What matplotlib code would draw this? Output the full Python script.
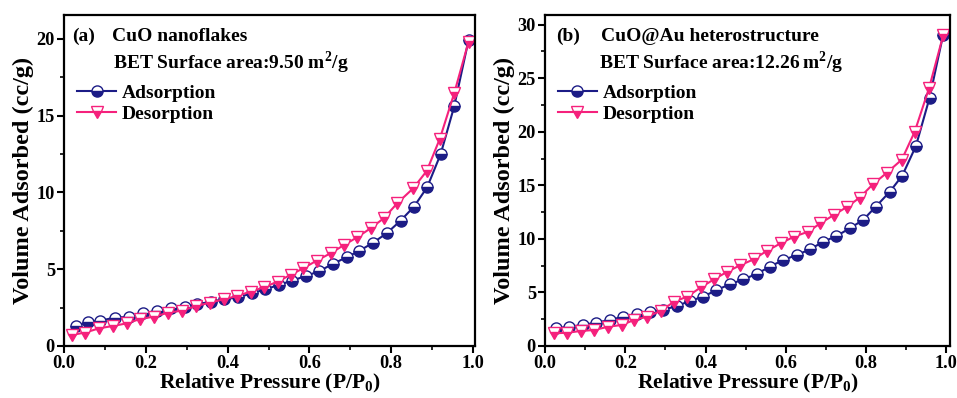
import matplotlib.pyplot as plt
from matplotlib.ticker import MultipleLocator

plt.rcParams['font.family'] = ['Liberation Serif', 'DejaVu Serif']
plt.rcParams['font.weight'] = 'bold'
plt.rcParams['mathtext.fontset'] = 'custom'
plt.rcParams['mathtext.rm'] = 'Liberation Serif:bold'
plt.rcParams['mathtext.bf'] = 'Liberation Serif:bold'

# (a) CuO nanoflakes
a_ads_x = [0.029, 0.059, 0.088, 0.124, 0.158, 0.192, 0.227, 0.261, 0.295, 0.326,
           0.359, 0.391, 0.425, 0.460, 0.492, 0.525, 0.557, 0.592, 0.624, 0.657,
           0.691, 0.722, 0.756, 0.789, 0.823, 0.856, 0.888, 0.921, 0.954, 0.989]
a_ads_y = [1.30, 1.56, 1.65, 1.84, 1.90, 2.13, 2.28, 2.45, 2.56, 2.71,
           2.89, 3.04, 3.17, 3.43, 3.69, 3.97, 4.25, 4.56, 4.87, 5.34,
           5.78, 6.19, 6.73, 7.34, 8.16, 9.08, 10.34, 12.50, 15.60, 19.90]
a_des_x = [0.019, 0.051, 0.086, 0.119, 0.155, 0.186, 0.220, 0.255, 0.288, 0.323,
           0.357, 0.390, 0.424, 0.456, 0.489, 0.522, 0.554, 0.585, 0.618, 0.652,
           0.685, 0.717, 0.750, 0.782, 0.815, 0.854, 0.887, 0.919, 0.954, 0.989]
a_des_y = [0.72, 0.87, 1.15, 1.30, 1.48, 1.76, 1.91, 2.17, 2.30, 2.60,
           2.82, 3.04, 3.26, 3.54, 3.82, 4.19, 4.63, 5.06, 5.56, 6.04,
           6.58, 7.08, 7.67, 8.32, 9.30, 10.27, 11.40, 13.50, 16.45, 19.80]

# (b) CuO@Au heterostructure
b_ads_x = [0.027, 0.061, 0.094, 0.127, 0.162, 0.195, 0.228, 0.261, 0.293, 0.328,
           0.361, 0.394, 0.427, 0.460, 0.494, 0.527, 0.560, 0.593, 0.627, 0.660,
           0.693, 0.726, 0.759, 0.792, 0.824, 0.859, 0.890, 0.924, 0.958, 0.992]
b_ads_y = [1.65, 1.80, 1.96, 2.18, 2.43, 2.74, 2.99, 3.20, 3.36, 3.73,
           4.20, 4.60, 5.22, 5.75, 6.22, 6.72, 7.40, 8.02, 8.49, 9.02,
           9.73, 10.26, 10.98, 11.75, 13.00, 14.40, 15.90, 18.66, 23.16, 29.07]
b_des_x = [0.022, 0.056, 0.089, 0.122, 0.158, 0.191, 0.222, 0.255, 0.290, 0.321,
           0.354, 0.388, 0.421, 0.454, 0.487, 0.520, 0.553, 0.587, 0.620, 0.655,
           0.686, 0.719, 0.753, 0.784, 0.817, 0.851, 0.889, 0.921, 0.957, 0.992]
b_des_y = [1.18, 1.24, 1.40, 1.49, 1.80, 1.96, 2.43, 2.74, 3.30, 4.13,
           4.60, 5.47, 6.22, 6.93, 7.55, 8.09, 8.89, 9.58, 10.20, 10.66,
           11.45, 12.22, 13.00, 13.85, 15.10, 16.15, 17.40, 20.00, 24.10, 29.00]

NAVY = '#1c1c86'
PINK = '#f5217c'

fig = plt.figure(figsize=(9.57, 3.98), dpi=100)
ax_a = fig.add_axes([0.0669, 0.1307, 0.4295, 0.8317])
ax_b = fig.add_axes([0.5695, 0.1307, 0.4232, 0.8317])

panels = [
    (ax_a, a_ads_x, a_ads_y, a_des_x, a_des_y, (0, 21.55), 1.005,
     '(a)', 'CuO nanoflakes', 'BET Surface area:9.50 m$^2$/g',
     0.019, 0.117, 0.119),
    (ax_b, b_ads_x, b_ads_y, b_des_x, b_des_y, (0, 30.9), 1.009,
     '(b)', 'CuO@Au heterostructure', 'BET Surface area:12.26$\\,$m$^2$/g',
     0.027, 0.138, 0.133),
]

for (ax, ax_x, ax_y, dx, dy, ylim, xmax, tag, title, bet,
     x_tag, x_title, x_bet) in panels:
    ax.plot(ax_x, ax_y, color=NAVY, lw=1.5, marker='o', ms=8,
            markerfacecolor=NAVY, markerfacecoloralt='white', fillstyle='bottom',
            markeredgecolor=NAVY, markeredgewidth=1.0, label='Adsorption')
    ax.plot(dx, dy, color=PINK, lw=1.5, marker='v', ms=9,
            markerfacecolor=PINK, markerfacecoloralt='white', fillstyle='bottom',
            markeredgecolor=PINK, markeredgewidth=1.0, label='Desorption')

    ax.set_xlim(0, xmax)
    ax.set_ylim(*ylim)
    ax.xaxis.set_major_locator(MultipleLocator(0.2))
    ax.xaxis.set_minor_locator(MultipleLocator(0.1))
    ax.yaxis.set_major_locator(MultipleLocator(5))
    ax.yaxis.set_minor_locator(MultipleLocator(2.5))
    ax.xaxis.set_major_formatter(plt.FormatStrFormatter('%.1f'))
    ax.tick_params(which='major', direction='out', length=5, width=1.5,
                   labelsize=13.2, pad=1.5)
    ax.tick_params(which='minor', direction='out', length=3, width=1.2)
    for s in ax.spines.values():
        s.set_linewidth(1.6)

    ax.set_xlabel('Relative Pressure (P/P$_0$)', fontsize=15.5, fontweight='bold',
                  labelpad=0)
    ax.set_ylabel('Volume Adsorbed (cc/g)', fontsize=17.5, fontweight='bold',
                  labelpad=2)

    ax.text(x_tag, 0.934, tag, transform=ax.transAxes, fontsize=14,
            fontweight='bold', va='center')
    ax.text(x_title, 0.934, title, transform=ax.transAxes, fontsize=14,
            fontweight='bold', va='center')
    ax.text(x_bet, 0.855, bet, transform=ax.transAxes, fontsize=14,
            fontweight='bold', va='center')
    ax.legend(loc='upper left', bbox_to_anchor=(0.013, 0.815), frameon=False,
              fontsize=14, handlelength=2.0, handletextpad=0.3,
              labelspacing=0.2, borderaxespad=0.0)

plt.savefig('out.png', dpi=100)
